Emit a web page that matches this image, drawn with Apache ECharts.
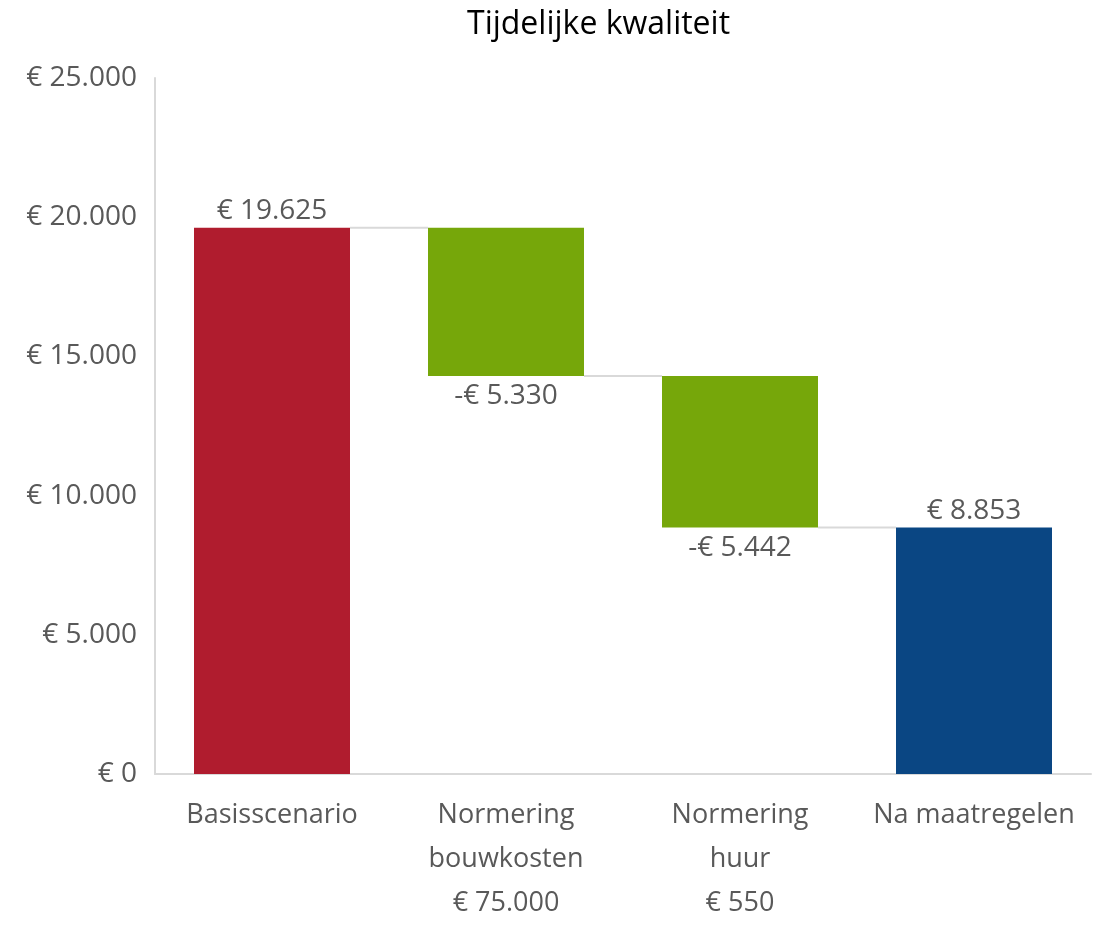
<!DOCTYPE html>
<html>
<head>
<meta charset="utf-8">
<script src="https://cdn.jsdelivr.net/npm/echarts@6/dist/echarts.min.js"></script>
<style>
  html, body { margin: 0; padding: 0; background: #fff; overflow: hidden; }
  #chart { width: 1102px; height: 925px; }
</style>
</head>
<body>
<div id="chart"></div>
<script>
const categories = ['Basisscenario', 'Normering\nbouwkosten\n€ 75.000', 'Normering\nhuur\n€ 550', 'Na maatregelen']
// start value, two changes, end total
const steps = [19625, -5330, -5442, 8853]
const isTotal = [true, false, false, true]
const barColors = ['#B01C2E', '#76A70A', '#76A70A', '#0A4683']
const yTicks = [0, 5000, 10000, 15000, 20000, 25000]

const fmt = (v) => {
    const s = String(Math.abs(Math.round(v))).replace(/\B(?=(\d{3})+(?!\d))/g, '.')
    return (v < 0 ? '-€ ' : '€ ') + s
}

// work out floating bar bases and heights from the steps
const base = []
const height = []
const levels = []
let running = 0
steps.forEach((s, i) => {
    if (isTotal[i]) {
        base.push(0)
        height.push(s)
        running = s
    } else {
        const next = running + s
        base.push(Math.min(running, next))
        height.push(Math.abs(s))
        running = next
    }
    levels.push(running)
})
const connectors = levels.slice(0, -1).map((lv, i) => [i, lv])

const BAR_RATIO = 156 / 234
const font = '"Open Sans", "Noto Sans", sans-serif'

const chart = echarts.init(document.getElementById('chart'))
const option = {
    animation: false,
    title: {
        text: 'Tijdelijke kwaliteit',
        left: 462,
        top: 4,
        textStyle: { fontFamily: font, fontSize: 32, fontWeight: 'normal', color: '#000' }
    },
    grid: { left: 155, right: 11, top: 78, bottom: 144 },
    xAxis: {
        type: 'category',
        data: categories,
        axisTick: { show: false },
        axisLine: { lineStyle: { color: '#d9d9d9', width: 2 } },
        axisLabel: {
            color: '#595959',
            fontFamily: font,
            fontSize: 27,
            lineHeight: 44,
            margin: 19,
            interval: 0
        }
    },
    yAxis: {
        type: 'value',
        min: yTicks[0],
        max: yTicks[yTicks.length - 1],
        interval: yTicks[1] - yTicks[0],
        axisLine: { show: true, lineStyle: { color: '#d9d9d9', width: 2 } },
        axisTick: { show: false },
        splitLine: { show: false },
        axisLabel: {
            color: '#595959',
            fontFamily: font,
            fontSize: 28,
            margin: 18,
            formatter: (v) => fmt(v)
        }
    },
    series: [
        {
            name: 'base',
            type: 'bar',
            stack: 'wf',
            barWidth: (BAR_RATIO * 100) + '%',
            itemStyle: { color: 'transparent' },
            silent: true,
            data: base
        },
        {
            name: 'value',
            type: 'bar',
            stack: 'wf',
            barWidth: (BAR_RATIO * 100) + '%',
            data: height.map((h, i) => ({
                value: h,
                itemStyle: { color: barColors[i] },
                label: {
                    show: true,
                    position: steps[i] < 0 ? 'bottom' : 'top',
                    distance: steps[i] < 0 ? 6 : 3,
                    formatter: () => fmt(steps[i]),
                    color: '#595959',
                    fontFamily: font,
                    fontSize: 28
                }
            }))
        },
        {
            name: 'connectors',
            type: 'custom',
            silent: true,
            z: 1,
            encode: { x: 0, y: 1 },
            data: connectors,
            renderItem: (params, api) => {
                const i = api.value(0)
                const lv = api.value(1)
                const p0 = api.coord([i, lv])
                const p1 = api.coord([i + 1, lv])
                const halfBar = api.size([1, 0])[0] * BAR_RATIO / 2
                return {
                    type: 'line',
                    shape: { x1: p0[0] + halfBar, y1: p0[1], x2: p1[0] - halfBar, y2: p1[1] },
                    style: { stroke: '#d9d9d9', lineWidth: 2 }
                }
            }
        }
    ]
}
chart.setOption(option)
</script>
</body>
</html>
